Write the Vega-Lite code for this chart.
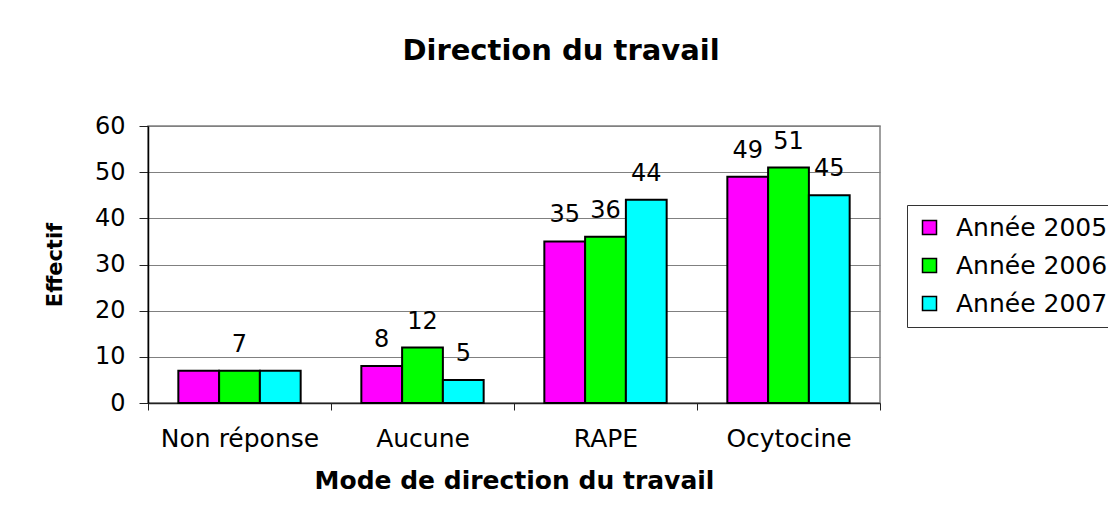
{
  "$schema": "https://vega.github.io/schema/vega-lite/v6.json",
  "width": 732,
  "height": 277,
  "autosize": {"type": "none"},
  "padding": {"left": 148, "top": 126, "right": 228, "bottom": 114},
  "background": "white",
  "title": {
    "text": "Direction du travail",
    "font": "DejaVu Sans",
    "fontSize": 29,
    "fontWeight": "bold",
    "color": "black",
    "anchor": "middle",
    "frame": "group",
    "dx": 47,
    "offset": 25,
    "baseline": "alphabetic"
  },
  "data": {
    "values": [
      {"mode": "Non réponse", "annee": "Année 2005", "effectif": 7},
      {"mode": "Non réponse", "annee": "Année 2006", "effectif": 7},
      {"mode": "Non réponse", "annee": "Année 2007", "effectif": 7},
      {"mode": "Aucune", "annee": "Année 2005", "effectif": 8},
      {"mode": "Aucune", "annee": "Année 2006", "effectif": 12},
      {"mode": "Aucune", "annee": "Année 2007", "effectif": 5},
      {"mode": "RAPE", "annee": "Année 2005", "effectif": 35},
      {"mode": "RAPE", "annee": "Année 2006", "effectif": 36},
      {"mode": "RAPE", "annee": "Année 2007", "effectif": 44},
      {"mode": "Ocytocine", "annee": "Année 2005", "effectif": 49},
      {"mode": "Ocytocine", "annee": "Année 2006", "effectif": 51},
      {"mode": "Ocytocine", "annee": "Année 2007", "effectif": 45}
    ]
  },
  "encoding": {
    "x": {
      "field": "mode",
      "type": "nominal",
      "sort": ["Non réponse", "Aucune", "RAPE", "Ocytocine"],
      "scale": {"paddingInner": 0, "paddingOuter": 0},
      "axis": {
        "title": "Mode de direction du travail",
        "titleFontSize": 25,
        "labelFontSize": 25,
        "labelAngle": 0,
        "tickBand": "extent",
        "tickSize": 7,
        "labelPadding": 16,
        "titlePadding": 17,
        "domainColor": "#222222",
        "tickColor": "#222222",
        "domainWidth": 1.5
      }
    },
    "xOffset": {
      "field": "annee",
      "type": "nominal",
      "sort": ["Année 2005", "Année 2006", "Année 2007"],
      "scale": {"paddingInner": 0, "paddingOuter": 0.744}
    },
    "y": {
      "field": "effectif",
      "type": "quantitative",
      "scale": {"domain": [0, 60], "nice": false},
      "axis": {
        "title": "Effectif",
        "titleFontSize": 21,
        "values": [0, 10, 20, 30, 40, 50, 60],
        "grid": true,
        "gridColor": "#808080",
        "gridWidth": 1,
        "tickSize": 9,
        "labelPadding": 14,
        "titlePadding": 29,
        "domainColor": "black",
        "domainWidth": 1.5,
        "tickColor": "#222222"
      }
    }
  },
  "layer": [
    {
      "mark": {"type": "bar", "stroke": "black", "strokeWidth": 2},
      "encoding": {
        "color": {
          "field": "annee",
          "type": "nominal",
          "scale": {
            "domain": ["Année 2005", "Année 2006", "Année 2007"],
            "range": ["#FF00FF", "#00FF00", "#00FFFF"]
          },
          "legend": {
            "title": null,
            "orient": "none",
            "legendX": 759,
            "legendY": 79,
            "strokeColor": "#333333",
            "fillColor": "white",
            "padding": 10,
            "symbolType": "square",
            "symbolSize": 196,
            "symbolStrokeColor": "black",
            "symbolStrokeWidth": 1.5,
            "labelFont": "DejaVu Sans",
            "labelFontSize": 25,
            "labelColor": "black",
            "labelOffset": 14,
            "rowPadding": 12,
            "labelLimit": 400
          }
        }
      }
    },
    {
      "transform": [
        {"filter": "!(datum.mode == 'Non réponse' && datum.annee != 'Année 2006')"}
      ],
      "mark": {
        "type": "text",
        "dy": -19,
        "baseline": "alphabetic",
        "font": "DejaVu Sans",
        "fontSize": 24,
        "color": "black"
      },
      "encoding": {
        "text": {"field": "effectif", "type": "quantitative"}
      }
    }
  ],
  "config": {
    "view": {"stroke": "#808080", "strokeWidth": 1.5},
    "font": "DejaVu Sans",
    "axis": {
      "labelFont": "DejaVu Sans",
      "labelFontSize": 24,
      "labelColor": "black",
      "titleFont": "DejaVu Sans",
      "titleColor": "black",
      "titleFontWeight": "bold"
    }
  }
}
